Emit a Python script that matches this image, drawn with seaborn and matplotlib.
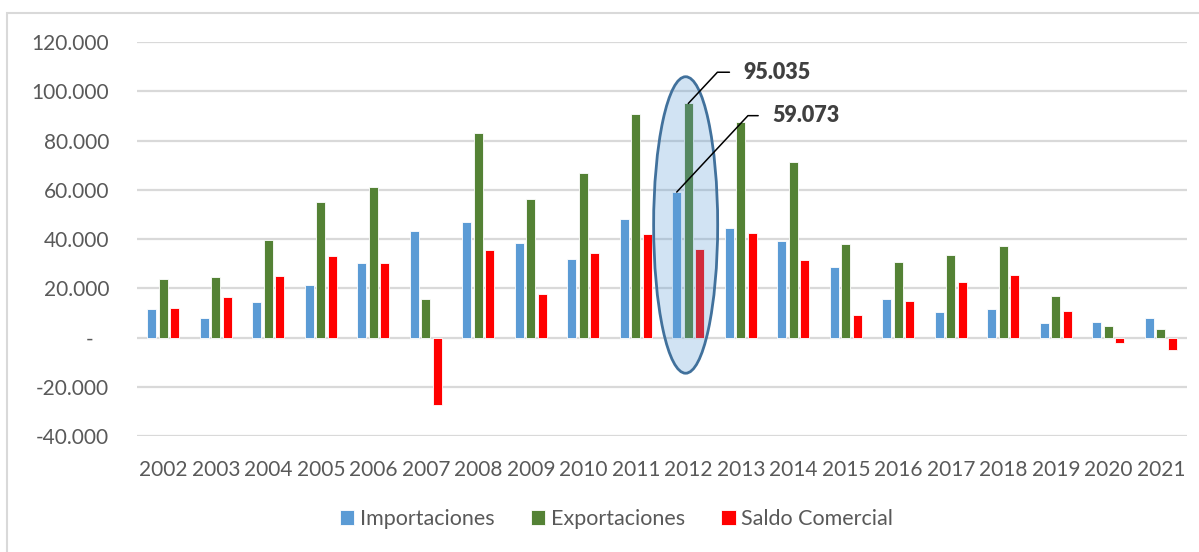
import pandas as pd
import matplotlib
matplotlib.use("Agg")
import matplotlib.pyplot as plt
from matplotlib.patches import Ellipse, Rectangle
from matplotlib.ticker import FuncFormatter, MultipleLocator
import seaborn as sns

years = [str(y) for y in range(2002, 2022)]
importaciones = [11500, 8000, 14300, 21500, 30100, 43100, 47000, 38400, 32000, 48300,
                 59073, 44600, 39300, 28500, 15500, 10500, 11600, 6000, 6500, 8000]
exportaciones = [23600, 24700, 39500, 55000, 61000, 15700, 83000, 56400, 66800, 90700,
                 95035, 87500, 71100, 38100, 30500, 33500, 37300, 17000, 4500, 3500]
saldo = [11900, 16400, 25000, 33300, 30400, -27400, 35600, 17700, 34300, 42000,
         35962, 42600, 31500, 9300, 14900, 22600, 25400, 10700, -2200, -5100]
series = ["Importaciones", "Exportaciones", "Saldo Comercial"]
colors = ["#5b9bd5", "#548235", "#ff0000"]

df = pd.DataFrame({
    "year": years * 3,
    "valor": importaciones + exportaciones + saldo,
    "serie": [s for s in series for _ in years],
})

sns.set_style("white")
plt.rcParams["font.family"] = ["Lato", "DejaVu Sans"]

fig = plt.figure(figsize=(11.99, 5.52), dpi=100)
ax = fig.add_axes([0.1143, 0.2101, 0.8757, 0.7138])

sns.barplot(data=df, x="year", y="valor", hue="serie", palette=colors,
            saturation=1, width=0.66, gap=0.22, edgecolor="white",
            linewidth=0.6, ax=ax, zorder=3)

ax.set_ylim(-40000, 120000)
ax.set_xlim(-0.5, len(years) - 0.5)
ax.yaxis.set_major_locator(MultipleLocator(20000))
ax.yaxis.set_major_formatter(FuncFormatter(
    lambda v, p: "-   " if v == 0 else f"{v:,.0f}".replace(",", ".")))
ax.grid(axis="y", color="#d9d9d9", lw=1.6, zorder=0)
ax.set_axisbelow(True)
for s in ax.spines.values():
    s.set_visible(False)
ax.tick_params(axis="both", length=0, labelsize=15, labelcolor="#595959")
ax.tick_params(axis="y", pad=20)
ax.tick_params(axis="x", pad=17)
ax.set_xlabel("")
ax.set_ylabel("")

# highlight 2012
i12 = years.index("2012")
ax.add_patch(Ellipse((i12 - 0.05, 45700), 1.22, 120400, facecolor="#5b9bd5",
                     alpha=0.28, zorder=4, lw=0))
ax.add_patch(Ellipse((i12 - 0.05, 45700), 1.22, 120400, facecolor="none",
                     edgecolor="#41719c", lw=2, zorder=5))

slot = 0.66 / 3
for xo, val, off in [(0, exportaciones[i12], (40, 22.5)),
                     (-slot, importaciones[i12], (69, 55))]:
    ax.annotate(f"{val:,.0f}".replace(",", "."), xy=(i12 + xo, val),
                xytext=off, textcoords="offset points", ha="left", va="center",
                fontsize=15.5, fontweight="heavy", color="#404040", zorder=6,
                arrowprops=dict(arrowstyle="-", color="black", lw=1.1,
                                relpos=(0, 0.5), shrinkA=8, shrinkB=0,
                                connectionstyle="angle,angleA=0,angleB=47"))

ax.legend(loc="center", bbox_to_anchor=(616.5 / 1199, 1 - 519 / 552),
          bbox_transform=fig.transFigure, ncol=3, frameon=False, fontsize=15.5,
          handlelength=0.66, handleheight=0.66, handletextpad=0.25,
          columnspacing=1.7, labelcolor="#595959")

fig.patches.append(Rectangle((7 / 1199, -0.1), 1.2, 1.1 - 13 / 552, fill=False,
                             edgecolor="#d9d9d9", lw=1.5,
                             transform=fig.transFigure, figure=fig))

fig.savefig("out.png", dpi=100)
